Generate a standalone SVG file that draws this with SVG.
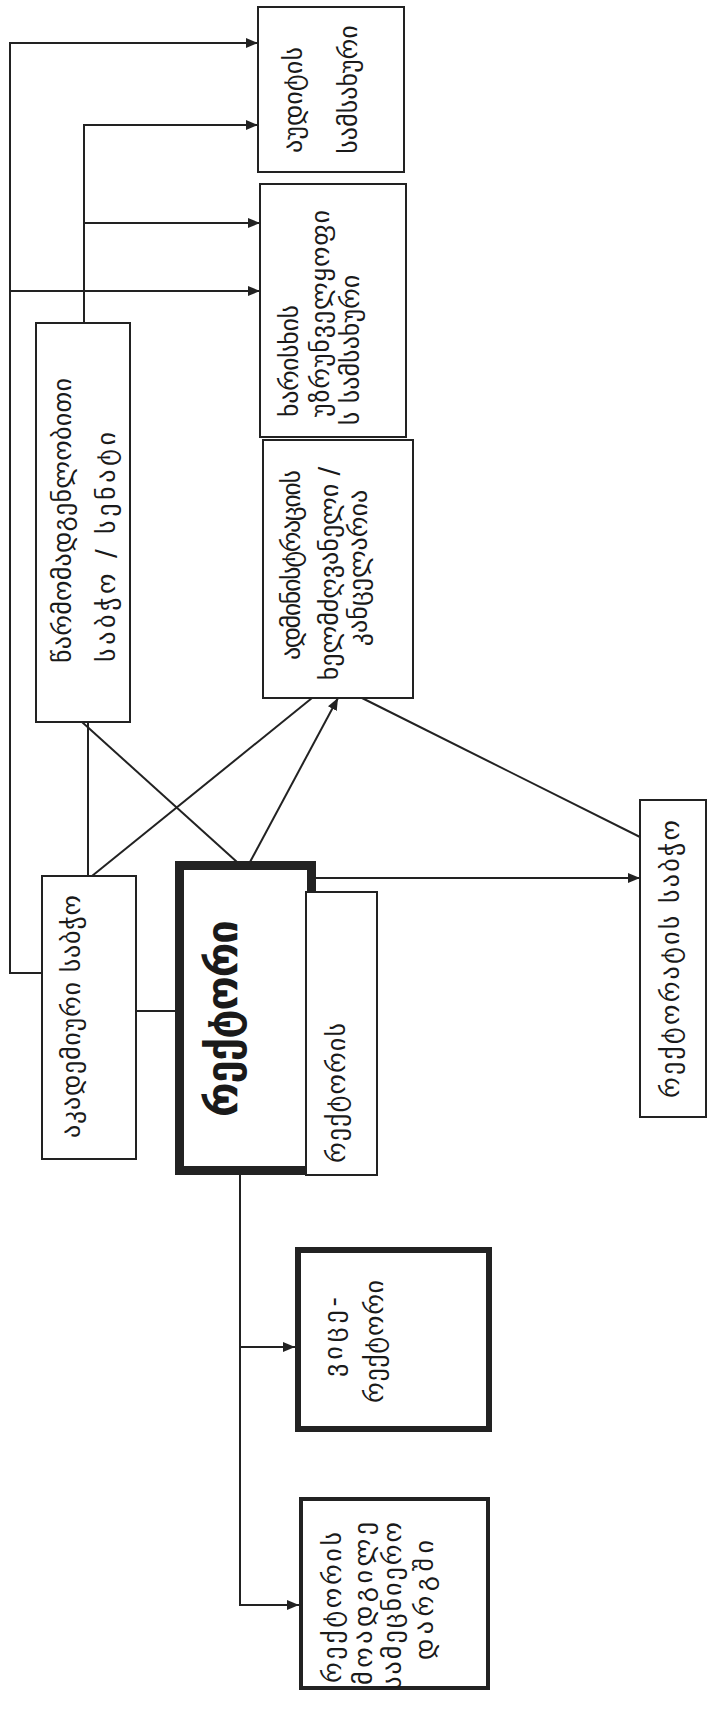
<svg xmlns="http://www.w3.org/2000/svg" width="708" height="1713" viewBox="0 0 708 1713">
<style>
.box{fill:#fff;stroke:#222;stroke-width:2}
.t{font-family:"DejaVu Sans",sans-serif;font-size:26px;fill:#1a1a1a;dominant-baseline:central;text-anchor:middle}
.big{font-size:42px;font-weight:bold}
.ln{fill:none;stroke:#222;stroke-width:2}
</style>
<defs>
<marker id="ar" viewBox="0 0 12 10" refX="12" refY="5" markerWidth="12" markerHeight="10" markerUnits="userSpaceOnUse" orient="auto">
<path d="M0,0 L12,5 L0,10 z" fill="#222"/>
</marker>
</defs>
<rect width="708" height="1713" fill="#fff"/>
<g id="connectors">
<path class="ln" d="M41,973 H10 V43 H258" marker-end="url(#ar)"/>
<path class="ln" d="M10,291 H260" marker-end="url(#ar)"/>
<path class="ln" d="M84,323 V125 H258" marker-end="url(#ar)"/>
<path class="ln" d="M84,223 H260" marker-end="url(#ar)"/>
<path class="ln" d="M88,722 V876"/>
<path class="ln" d="M82,722 L237,862"/>
<path class="ln" d="M92,876 L312,698"/>
<path class="ln" d="M250,862 L338,698" marker-end="url(#ar)"/>
<path class="ln" d="M362,698 L652,843"/>
<path class="ln" d="M316,878 H640" marker-end="url(#ar)"/>
<path class="ln" d="M136,1011 H175"/>
<path class="ln" d="M240,1175 V1605 H299" marker-end="url(#ar)"/>
<path class="ln" d="M240,1347 H295" marker-end="url(#ar)"/>
</g>
<g id="audit">
<rect class="box" x="258" y="7" width="146" height="165"/>
<text class="t" textLength="106" lengthAdjust="spacing" transform="translate(293,100) rotate(-90)">აუდიტის</text>
<text class="t" transform="translate(348,89.5) rotate(-90)">სამსახური</text>
</g>
<g id="quality">
<rect class="box" x="260" y="184" width="146" height="253"/>
<text class="t" textLength="112" lengthAdjust="spacing" transform="translate(289,361) rotate(-90)">ხარისხის</text>
<text class="t" textLength="207" lengthAdjust="spacing" transform="translate(320,313.5) rotate(-90)">უზრუნველყოფი</text>
<text class="t" transform="translate(350,350) rotate(-90)">ს სამსახური</text>
</g>
<g id="admin">
<rect class="box" x="263" y="440" width="150" height="258"/>
<text class="t" textLength="190" lengthAdjust="spacing" transform="translate(291,565) rotate(-90)">ადმინისტრაციის</text>
<text class="t" transform="translate(329,573.5) rotate(-90)">ხელმძღვანელი /</text>
<text class="t" transform="translate(358,568) rotate(-90)">კანცელარია</text>
</g>
<g id="senate">
<rect class="box" x="36" y="323" width="94" height="399"/>
<text class="t" textLength="285" lengthAdjust="spacing" transform="translate(62,520.5) rotate(-90)">წარმომადგენლობითი</text>
<text class="t" textLength="230" lengthAdjust="spacing" transform="translate(106,547) rotate(-90)">საბჭო / სენატი</text>
</g>
<g id="academic">
<rect class="box" x="42" y="876" width="94" height="283"/>
<text class="t" textLength="243" lengthAdjust="spacing" transform="translate(71,1016.5) rotate(-90)">აკადემიური საბჭო</text>
</g>
<g id="rector">
<rect x="179.5" y="865.5" width="132" height="305" fill="#fff" stroke="#222" stroke-width="9"/>
<text class="t big" textLength="197" lengthAdjust="spacing" transform="translate(222,1018.5) rotate(-90)">რექტორი</text>
</g>
<g id="rector-office">
<rect class="box" x="306" y="892" width="71" height="283"/>
<text class="t" textLength="140" lengthAdjust="spacing" transform="translate(336,1093) rotate(-90)">რექტორის</text>
</g>
<g id="rectorate">
<rect class="box" x="640" y="800" width="66" height="317"/>
<text class="t" textLength="278" lengthAdjust="spacing" transform="translate(670,959) rotate(-90)">რექტორატის საბჭო</text>
</g>
<g id="vice-rector">
<rect x="298" y="1250" width="191" height="179" fill="#fff" stroke="#222" stroke-width="6"/>
<text class="t" textLength="80" lengthAdjust="spacing" transform="translate(333,1337) rotate(-90)">ვიცე-</text>
<text class="t" textLength="123" lengthAdjust="spacing" transform="translate(374,1341.5) rotate(-90)">რექტორი</text>
</g>
<g id="deputy">
<rect x="301" y="1499" width="187" height="189" fill="#fff" stroke="#222" stroke-width="4"/>
<text class="t" textLength="151" lengthAdjust="spacing" transform="translate(332,1607.5) rotate(-90)">რექტორის</text>
<text class="t" textLength="163" lengthAdjust="spacing" transform="translate(363,1603.5) rotate(-90)">მოადგილე</text>
<text class="t" textLength="168" lengthAdjust="spacing" transform="translate(392,1606) rotate(-90)">სამეცნიერო</text>
<text class="t" textLength="120" lengthAdjust="spacing" transform="translate(424,1600) rotate(-90)">დარგში</text>
</g>
</svg>
